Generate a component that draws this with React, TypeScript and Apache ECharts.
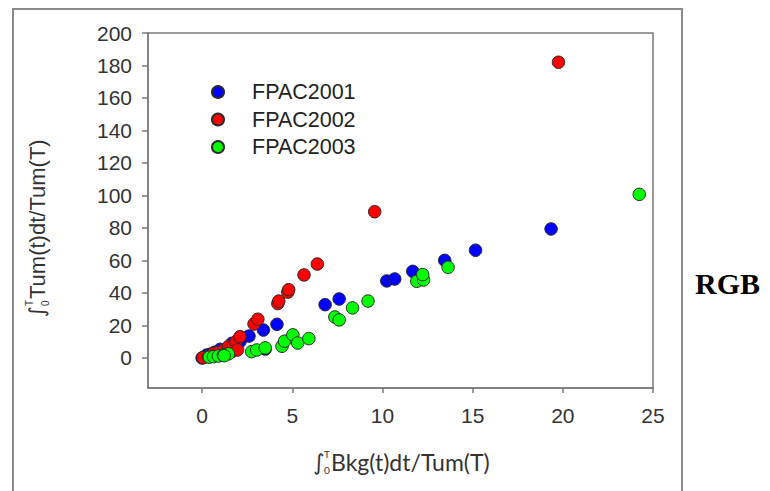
import React, { useEffect, useRef } from "react";
import * as echarts from "echarts";

const seriesNames = ["FPAC2001", "FPAC2002", "FPAC2003"];
const seriesColors = ["#0000ff", "#ff0000", "#00ff00"];

const fpac2001X = [0, 0.1, 0.26, 0.5, 0.7, 1.0, 1.65, 2.1, 2.6, 3.4, 3.5, 4.15, 6.82, 7.6, 10.24, 10.68, 11.68, 13.45, 15.16, 19.35];
const fpac2001Y = [0, 0.5, 1.8, 2.5, 3.5, 5.3, 9, 10, 13.5, 17.2, 5.5, 20.7, 32.8, 36.3, 47.4, 48.6, 53.3, 60.1, 66.3, 79.4];

const fpac2002X = [0.05, 0.35, 0.63, 0.9, 1.2, 1.46, 1.65, 1.74, 1.88, 1.96, 2.1, 2.88, 3.09, 4.2, 4.25, 4.75, 4.8, 5.65, 6.39, 9.57, 19.76];
const fpac2002Y = [0.2, 0.8, 2.9, 3.5, 5, 7, 3.9, 8, 10, 4.9, 13.1, 20.9, 23.8, 33.5, 35, 40.5, 42, 51.1, 57.8, 90, 182];

const fpac2003X = [0.4, 0.63, 0.9, 1.18, 1.46, 1.22, 2.75, 3.03, 3.5, 4.43, 4.57, 5.03, 5.3, 5.92, 7.36, 7.6, 8.34, 9.2, 11.9, 12.28, 12.23, 13.64, 24.24];
const fpac2003Y = [0.5, 0.8, 1.2, 1.8, 2.5, 1.4, 3.9, 4.9, 6.2, 7.2, 10.3, 14.2, 9.2, 11.9, 25.2, 23.4, 30.8, 35, 47.2, 48, 51.3, 55.8, 100.7];

const xTicks = [0, 5, 10, 15, 20, 25];
const yTicks = [0, 20, 40, 60, 80, 100, 120, 140, 160, 180, 200];

const xNameMain = "Bkg(t)dt/Tum(T)";
const yNameMain = "Tum(t)dt/Tum(T)";

export default function App() {
  const ref = useRef<HTMLDivElement>(null);
  useEffect(() => {
    document.body.style.margin = "0";
    const chart = echarts.init(ref.current!, null, { renderer: "svg" });
    const zip = (xs: number[], ys: number[]) => xs.map((x, i) => [x, ys[i]]);
    const allData = [zip(fpac2001X, fpac2001Y), zip(fpac2002X, fpac2002Y), zip(fpac2003X, fpac2003Y)];
    const axisColor = "#7a7a7a";
    const labelFont = "Liberation Sans";
    chart.setOption({
      animation: false,
      backgroundColor: "#ffffff",
      grid: {
        left: 148,
        top: 33,
        right: 117,
        bottom: 103,
        show: true,
        borderColor: axisColor,
        borderWidth: 1.5,
        backgroundColor: "transparent",
      },
      xAxis: {
        type: "value",
        min: -3,
        max: 25,
        axisLine: { show: true, onZero: false, lineStyle: { color: axisColor, width: 1.5 } },
        axisTick: { show: true, customValues: xTicks, length: 5, lineStyle: { color: axisColor, width: 1.5 } },
        axisLabel: { customValues: xTicks, margin: 17, fontSize: 21, fontFamily: labelFont, color: "#333" },
        splitLine: { show: false },
      },
      yAxis: {
        type: "value",
        min: -18.5,
        max: 200,
        axisLine: { show: true, onZero: false, lineStyle: { color: axisColor, width: 1.5 } },
        axisTick: { show: true, customValues: yTicks, length: 6, lineStyle: { color: axisColor, width: 1.5 } },
        axisLabel: { customValues: yTicks, margin: 16, fontSize: 21, fontFamily: labelFont, color: "#333" },
        splitLine: { show: false },
      },
      legend: {
        data: seriesNames,
        orient: "vertical",
        left: 206,
        top: 76,
        icon: "circle",
        itemWidth: 12,
        itemHeight: 12,
        itemGap: 5.5,
        textStyle: { fontSize: 21.5, fontFamily: labelFont, color: "#222", padding: [0, 0, 0, 23], lineHeight: 21 },
      },
      series: seriesNames.map((name, i) => ({
        name,
        type: "scatter",
        data: allData[i],
        symbol: "circle",
        symbolSize: 12.5,
        itemStyle: { color: seriesColors[i], borderColor: "#2a2a2a", borderWidth: 1, opacity: 1 },
        z: 2 + i,
      })),
      graphic: [
        {
          type: "rect",
          silent: true,
          shape: { x: 13, y: 9, width: 669, height: 520 },
          style: { fill: "none", stroke: "#8a8a8a", lineWidth: 2 },
        },
        {
          type: "text",
          x: 695,
          y: 283,
          style: {
            text: "RGB",
            fontSize: 30,
            fontWeight: "bold",
            fontFamily: "Liberation Serif",
            fill: "#000",
            verticalAlign: "middle",
          },
        },
        {
          type: "group",
          x: 313,
          y: 462,
          children: [
            { type: "text", x: 0, y: 0, style: { text: "∫", fontSize: 22, fontFamily: "DejaVu Sans", fill: "#333", verticalAlign: "middle" } },
            { type: "text", x: 11, y: -8, style: { text: "T", fontSize: 10, fontFamily: "Lato", fill: "#333", verticalAlign: "middle" } },
            { type: "text", x: 11, y: 8, style: { text: "0", fontSize: 10, fontFamily: "Lato", fill: "#333", verticalAlign: "middle" } },
            { type: "text", x: 18, y: 0, style: { text: xNameMain, fontSize: 23, fontFamily: "Lato", fill: "#333", verticalAlign: "middle" } },
          ],
        },
        {
          type: "group",
          x: 37,
          y: 317,
          rotation: Math.PI / 2,
          children: [
            { type: "text", x: 0, y: 0, style: { text: "∫", fontSize: 21, fontFamily: "DejaVu Sans", fill: "#333", verticalAlign: "middle" } },
            { type: "text", x: 11, y: -8, style: { text: "T", fontSize: 10, fontFamily: labelFont, fill: "#333", verticalAlign: "middle" } },
            { type: "text", x: 11, y: 8, style: { text: "0", fontSize: 10, fontFamily: labelFont, fill: "#333", verticalAlign: "middle" } },
            { type: "text", x: 18, y: 0, style: { text: yNameMain, fontSize: 22, fontFamily: labelFont, fill: "#333", verticalAlign: "middle" } },
          ],
        },
      ],
    });
    return () => chart.dispose();
  }, []);
  return <div ref={ref} style={{ width: 770, height: 491 }} />;
}
